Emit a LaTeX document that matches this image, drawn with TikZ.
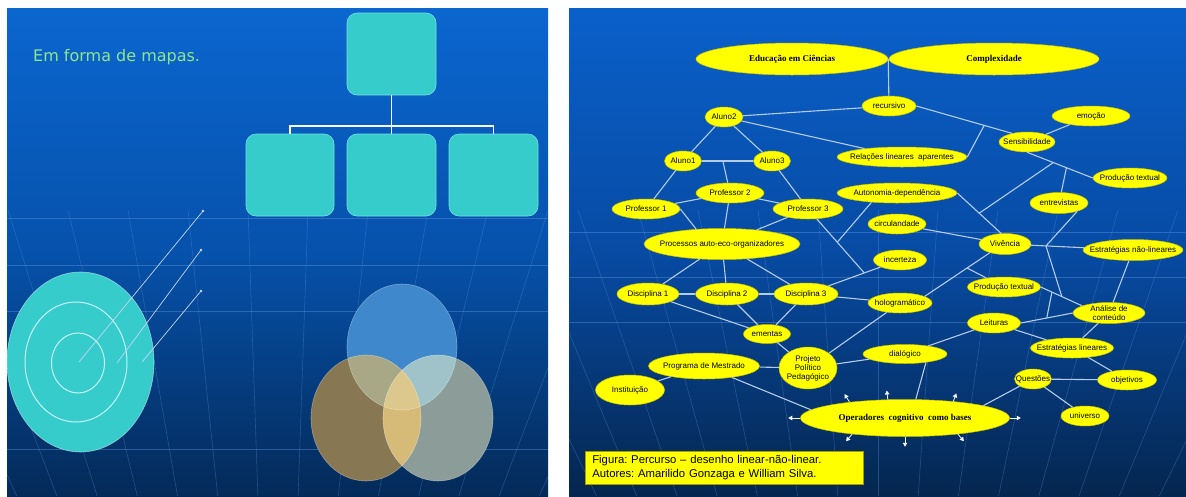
\documentclass[tikz,border=0pt]{standalone}
\usepackage{fontspec}
\setmainfont{Liberation Sans}
\newfontfamily\arialf{Liberation Sans}
\newfontfamily\serifb{Liberation Serif}
\newfontfamily\dejavu{DejaVu Sans}
\usetikzlibrary{shapes.geometric,calc,arrows.meta}
\frenchspacing

% slide backgrounds
\definecolor{lTop}{HTML}{0B66CF}
\definecolor{lMid}{HTML}{0652AC}
\definecolor{lBot}{HTML}{042A58}
\definecolor{rTop}{HTML}{0A60CA}
\definecolor{rMid}{HTML}{074BA4}
\definecolor{rBot}{HTML}{05264F}
\definecolor{gridc}{HTML}{5A90D8}
% shapes
\definecolor{tealf}{HTML}{36CCCC}
\definecolor{teale}{HTML}{74E0E0}
\definecolor{ringc}{HTML}{C8F4F4}
\definecolor{titleg}{HTML}{8EE68E}
\definecolor{ylw}{HTML}{FFFF00}
\definecolor{ylwE}{HTML}{C8C400}
\definecolor{lnk}{HTML}{B4CCEA}
% venn
\definecolor{vTop}{HTML}{3F88CC}
\definecolor{vLeft}{HTML}{877753}
\definecolor{vRight}{HTML}{8C9C98}
\definecolor{vTL}{HTML}{A8A886}
\definecolor{vTR}{HTML}{9FC3C9}
\definecolor{vLR}{HTML}{D6BA78}
\definecolor{vAll}{HTML}{DCC88C}

\newcommand{\bnode}[6]{\node[bub, minimum width=#4, minimum height=#5, label={[lab]center:{#6}}] (#1) at (#2,#3) {};}

\tikzset{
  tbox/.style={rectangle, rounded corners=10pt, fill=tealf, draw=teale, line width=0.6pt, inner sep=0pt},
  orgl/.style={draw=white!90!lnk, line width=1.4pt},
  ring/.style={draw=ringc, line width=1pt},
  ptr/.style={draw=lnk!80!white, line width=0.7pt},
  gridh/.style={draw=gridc, line width=0.8pt, opacity=0.45},
  gridv/.style={draw=gridc, line width=0.6pt, opacity=0.35},
  bub/.style={ellipse, fill=ylw, draw=ylwE, line width=0.5pt, inner sep=0pt},
  lab/.style={font=\arialf\fontsize{8}{9}\selectfont, align=center, inner sep=0pt, text=black},
  ttl/.style={font=\serifb\bfseries\fontsize{9}{10}\selectfont, inner sep=0pt, text=black},
  con/.style={draw=lnk, line width=1.1pt},
  opar/.style={draw=white!85!lnk, line width=0.8pt, -{Triangle[length=4pt,width=4.5pt]}},
  capbox/.style={rectangle, fill=ylw, draw=ylwE!80!black, line width=0.6pt, inner xsep=7pt, inner ysep=3pt,
    text width=264pt, font=\arialf\fontsize{11.3}{13.5}\selectfont\frenchspacing, align=left, text=black},
}

\begin{document}
\begin{tikzpicture}[x=1pt,y=-1pt]
\useasboundingbox (0,0) rectangle (1186,496);
\fill[white] (0,0) rectangle (1186,496);

% ---------------- left slide ----------------
\shade[top color=lTop, bottom color=lMid] (7,8) rectangle (548,250);
\shade[top color=lMid, bottom color=lBot] (7,250) rectangle (548,496);
\begin{scope}
  \clip (7,8) rectangle (548,496);
  \foreach \y in {218,265,311,449} \draw[gridh] (7,\y) -- (548,\y);
  \foreach \d in {-390,-330,...,390} \draw[gridv] ({278+\d},210) -- ({278+0.67*\d},496);
\end{scope}

\node[anchor=west, text=titleg, font=\dejavu\fontsize{16}{18}\selectfont, inner sep=0pt] (title) at (33,57) {Em forma de mapas.};

% hierarchy
\node[tbox, minimum width=89, minimum height=82] (t0) at (391.5,54) {};
\node[tbox, minimum width=88, minimum height=82] (t1) at (290,175) {};
\node[tbox, minimum width=89, minimum height=82] (t2) at (391.5,175) {};
\node[tbox, minimum width=89, minimum height=82] (t3) at (493.5,175) {};
\coordinate (bus) at (391.5,126);
\draw[orgl] (t0) -- (t2);
\draw[orgl] (t1.north) |- (bus) -| (t3.north);

% concentric target
\fill[tealf] (80.5,362) ellipse [x radius=73.5, y radius=90];
\draw[white, opacity=0.5, line width=0.6pt] (80.5,362) ellipse [x radius=73.5, y radius=90];
\draw[ring] (76,362) ellipse [x radius=51, y radius=60];
\draw[ring] (78,363) ellipse [x radius=26.5, y radius=30];
\coordinate (p1) at (203,211);
\coordinate (p2) at (201,250);
\coordinate (p3) at (201,291);
\draw[ptr] (79,362) -- (p1);
\draw[ptr] (117,363) -- (p2);
\draw[ptr] (142,362) -- (p3);
\foreach \p in {p1,p2,p3} \fill[lnk!70!white] (\p) circle (1.3);

% three overlapping sets
\def\cT{(402,347) ellipse [x radius=55, y radius=63]}
\def\cL{(366,418) ellipse [x radius=55, y radius=63]}
\def\cR{(438,418) ellipse [x radius=55, y radius=63]}
\fill[vTop] \cT;
\fill[vLeft] \cL;
\fill[vRight] \cR;
\begin{scope}\clip \cT; \fill[vTL] \cL; \fill[vTR] \cR; \end{scope}
\begin{scope}\clip \cL; \fill[vLR] \cR; \end{scope}
\begin{scope}\clip \cT; \clip \cL; \fill[vAll] \cR; \end{scope}
\draw[white, opacity=0.35, line width=0.6pt] \cT \cL \cR;

% ---------------- right slide ----------------
\shade[top color=rTop, bottom color=rMid] (569,8) rectangle (1186,250);
\shade[top color=rMid, bottom color=rBot] (569,250) rectangle (1186,496);
\begin{scope}
  \clip (569,8) rectangle (1186,496);
  \foreach \y in {232,277,322} \draw[gridh] (569,\y) -- (1186,\y);
  \foreach \d in {-420,-360,...,420} \draw[gridv] ({878+\d},210) -- ({878+0.67*\d},496);
\end{scope}

% title bubbles
\node[bub, minimum width=192, minimum height=32, label={[ttl]center:Educação em Ciências}] (edu) at (792,59) {};
\node[bub, minimum width=210, minimum height=32, label={[ttl]center:Complexidade}] (comp) at (994,59) {};
\node[bub, minimum width=209, minimum height=37, label={[ttl]center:{Operadores\ \ cognitivo\ \ como bases}}] (oper) at (905,418) {};

% concept bubbles
\bnode{recursivo}{889}{106}{54}{20}{recursivo}
\bnode{aluno2}{724}{117}{38}{20}{Aluno2}
\bnode{aluno1}{683}{161}{37}{20}{Aluno1}
\bnode{aluno3}{772}{161}{37}{20}{Aluno3}
\bnode{relacoes}{902}{157}{130}{20}{Relações lineares\ \ aparentes}
\bnode{emocao}{1091}{116}{78}{20}{emoção}
\bnode{sensib}{1027}{142}{56}{20}{Sensibilidade}
\bnode{prodA}{1130}{178}{74}{20}{Produção textual}
\bnode{prof1}{646}{209}{68}{20}{Professor 1}
\bnode{prof2}{730}{193}{68}{20}{Professor 2}
\bnode{prof3}{808}{209}{70}{20}{Professor 3}
\bnode{autonomia}{897}{193}{120}{20}{Autonomia-dependência}
\bnode{entrev}{1059}{203}{58}{21}{entrevistas}
\bnode{circ}{897}{224}{58}{20}{circulandade}
\bnode{vivencia}{1005}{244}{52}{21}{Vivência}
\bnode{estrNL}{1133}{250}{100}{21}{Estratégias não-lineares}
\bnode{processos}{722}{244}{156}{31}{Processos auto-eco-organizadores}
\bnode{incerteza}{900}{260}{53}{20}{incerteza}
\bnode{disc1}{648}{294}{62}{22}{Disciplina 1}
\bnode{disc2}{727}{294}{63}{22}{Disciplina 2}
\bnode{disc3}{806}{294}{64}{22}{Disciplina 3}
\bnode{prodB}{1004}{287}{73}{20}{Produção textual}
\bnode{holog}{900}{303}{64}{20}{hologramático}
\bnode{analise}{1109}{313}{72}{21}{Análise de\\conteúdo}
\bnode{leituras}{994}{323}{53}{20}{Leituras}
\bnode{ementas}{767}{334}{47}{19}{ementas}
\bnode{estrL}{1072}{348}{83}{20}{Estratégias lineares}
\bnode{dialogico}{905}{354}{84}{19}{dialógico}
\bnode{projeto}{808}{368}{58}{42}{Projeto\\Político\\Pedagógico}
\bnode{programa}{704}{366}{111}{26}{Programa de Mestrado}
\bnode{questoes}{1033}{379}{37}{20}{Questões}
\bnode{objetivos}{1127}{380}{59}{20}{objetivos}
\bnode{instit}{630}{390}{69}{30}{Instituição}
\bnode{universo}{1085}{416}{48}{20}{universo}

% junction points on links
\coordinate (jA) at ($(aluno1.east)!0.41!(aluno3.west)$);
\coordinate (jRS) at ($(recursivo.east)!0.71!(sensib.150)$);
\coordinate (jSP1) at ($(sensib.south)!0.4!(prodA.west)$);
\coordinate (jSP2) at ($(sensib.south)!0.6!(prodA.west)$);
\coordinate (jAV) at ($(autonomia.east)!0.5!(vivencia.110)$);
\coordinate (jID) at ($(incerteza)!0.38!(disc3)$);
\coordinate (jP3) at ($(prof3)!0.52!(jID)$);
\coordinate (jVE) at ($(vivencia)!0.32!(estrNL)$);
\coordinate (jHV) at ($(holog.15)!0.65!(vivencia.-150)$);
\coordinate (jPA1) at ($(prodB.east)!0.27!(analise.165)$);
\coordinate (jPA2) at ($(prodB.east)!0.51!(analise.165)$);
\coordinate (jLA) at ($(leituras.east)!0.5!(analise.west)$);

% links
\begin{scope}[every path/.style={con}]
\draw (edu.east) -- (recursivo);
\draw (aluno2) -- (recursivo);
\draw (aluno2) -- (aluno1);
\draw (aluno2) -- (aluno3);
\draw (aluno1) -- (aluno3);
\draw (aluno2) -- (relacoes);
\draw (jA) -- (prof2);
\draw (recursivo.east) -- (sensib.150);
\draw (relacoes.east) -- (jRS);
\draw (emocao) -- (sensib);
\draw (sensib.south) -- (prodA.west);
\draw (jSP1) -- (jAV);
\draw (jSP2) -- (entrev);
\draw (autonomia.east) -- (vivencia.110);
\draw (aluno1) -- (prof1);
\draw (prof1) -- (prof2);
\draw (prof2) -- (prof3);
\draw (aluno3) -- (prof3);
\draw (prof1.east) -- (processos.150);
\draw (prof2) -- (processos);
\draw (prof3) -- (processos);
\draw (prof3) -- (jID);
\draw (autonomia.200) -- (jP3);
\draw (circ) -- (vivencia);
\draw (entrev.-25) -- (jVE);
\draw (vivencia) -- (estrNL);
\draw (jVE) -- (jPA2);
\draw (estrNL) -- (analise);
\draw (processos) -- (disc1);
\draw (processos) -- (disc2);
\draw (processos) -- (disc3);
\draw (disc1) -- (disc2);
\draw (disc2) -- (disc3);
\draw (incerteza) -- (disc3);
\draw (disc3) -- (holog);
\draw (holog.15) -- (vivencia.-150);
\draw (jHV) -- (prodB);
\draw (prodB.east) -- (analise.165);
\draw (leituras.east) -- (analise.west);
\draw (jPA1) -- (jLA);
\draw (analise) -- (estrL);
\draw (leituras) -- (estrL);
\draw (estrL) -- (objetivos);
\draw (questoes) -- (objetivos);
\draw (questoes) -- (universo);
\draw (questoes) -- (oper.9);
\draw (leituras) -- (dialogico);
\draw (dialogico.-22) -- (oper.60);
\draw (dialogico) -- (projeto);
\draw (projeto) -- (holog);
\draw (projeto) -- (ementas);
\draw (disc1) -- (ementas);
\draw (disc2) -- (ementas);
\draw (disc3) -- (ementas);
\draw (programa) -- (projeto);
\draw (programa) -- (instit);
\draw (programa) -- (oper.175);
\end{scope}

% small arrows radiating from the operators bubble
\draw[opar] (oper.180) -- ++(-12,0);
\draw[opar] (oper.164) -- ++(-5,-8);
\draw[opar] (oper.133) -- ++(-1,-9);
\draw[opar] (oper.19) -- ++(3,-8);
\draw[opar] (oper.0) -- ++(11,0);
\draw[opar] (oper.-17) -- ++(6,7);
\draw[opar] (oper.-90) -- ++(0,10);
\draw[opar] (oper.-163) -- ++(-6,7);

% caption
\node[capbox, anchor=north west, minimum height=33] (cap) at (585,451)
  {Figura: Percurso – desenho linear-não-linear.\\Autores: Amarilido Gonzaga e William Silva.};
\end{tikzpicture}
\end{document}
